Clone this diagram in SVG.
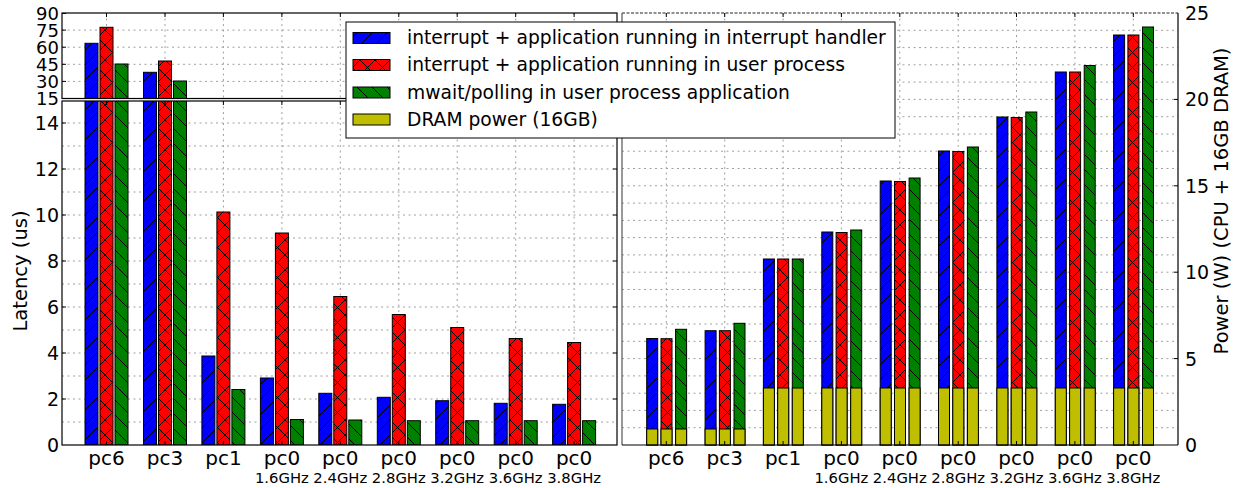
<svg xmlns="http://www.w3.org/2000/svg" width="1238" height="488" viewBox="0 0 1238 488">
  <style>
    text { font-family: "DejaVu Sans", "Liberation Sans", sans-serif; fill: #000; }
    .tl { font-size: 19px; text-anchor: end; }
    .tu { font-size: 18px; text-anchor: end; }
    .tr { font-size: 19px; text-anchor: start; }
    .xl { font-size: 20px; text-anchor: middle; }
    .xs { font-size: 14.8px; text-anchor: middle; }
    .lg { font-size: 18.7px; }
    .al { font-size: 19.5px; text-anchor: middle; }
    .grid { stroke: #a0a0a0; stroke-width: 1; stroke-dasharray: 2 3.5; fill: none; }
    .spine { stroke: #000; stroke-width: 1.2; fill: none; }
    .tick { stroke: #000; stroke-width: 1; fill: none; }
    .bar { stroke: #000; stroke-width: 1; }
    .b { fill: url(#hb); }
    .r { fill: url(#hr); }
    .g { fill: url(#hg); }
    .y { fill: #bfbf00; }
  </style>
  <defs>
    <pattern id="hb" patternUnits="userSpaceOnUse" width="15" height="15">
      <rect width="15" height="15" fill="#0000ff"/>
      <path d="M-2,2 L2,-2 M0,15 L15,0 M13,17 L17,13" stroke="#000" stroke-width="1"/>
    </pattern>
    <pattern id="hg" patternUnits="userSpaceOnUse" width="15" height="15">
      <rect width="15" height="15" fill="#008000"/>
      <path d="M-2,13 L2,17 M0,0 L15,15 M13,-2 L17,2" stroke="#000" stroke-width="1"/>
    </pattern>
    <pattern id="hr" patternUnits="userSpaceOnUse" width="15" height="15">
      <rect width="15" height="15" fill="#ff0000"/>
      <path d="M-2,2 L2,-2 M0,15 L15,0 M13,17 L17,13 M-2,13 L2,17 M0,0 L15,15 M13,-2 L17,2" stroke="#000" stroke-width="1"/>
    </pattern>
    <clipPath id="clipUp"><rect x="62" y="13" width="555" height="85.5"/></clipPath>
    <clipPath id="clipLo"><rect x="62" y="101" width="555" height="344"/></clipPath>
  </defs>
  <rect width="1238" height="488" fill="#fff"/>

  <!-- Latency chart: upper (broken) axes, 15..90 us -->
  <g id="latency-upper">
    <g class="grid">
      <path d="M62,30.1H617 M62,47.2H617 M62,64.3H617 M62,81.4H617"/>
      <path d="M106.5,13V98.5 M165,13V98.5 M223.4,13V98.5 M281.9,13V98.5 M340.3,13V98.5 M398.8,13V98.5 M457.2,13V98.5 M515.7,13V98.5 M574.1,13V98.5"/>
    </g>
    <g clip-path="url(#clipUp)">
      <rect class="bar b" x="85" y="43.3" width="13" height="70"/>
      <rect class="bar r" x="100" y="27.3" width="13" height="90"/>
      <rect class="bar g" x="115" y="64" width="13" height="50"/>
      <rect class="bar b" x="143.5" y="72.3" width="13" height="40"/>
      <rect class="bar r" x="158.5" y="61" width="13" height="50"/>
      <rect class="bar g" x="173.5" y="81" width="13" height="30"/>
    </g>
    <path class="tick" d="M62,13.5h4 M62,30.1h4 M62,47.2h4 M62,64.3h4 M62,81.4h4 M617,30.1h-4 M617,47.2h-4 M617,64.3h-4 M617,81.4h-4"/>
    <path class="tick" d="M106.5,13v4 M165,13v4 M223.4,13v4 M281.9,13v4 M340.3,13v4 M398.8,13v4 M457.2,13v4 M515.7,13v4 M574.1,13v4"/>
    <rect class="spine" x="62" y="13" width="555" height="85.5"/>
    <g class="tu">
      <text x="59" y="19.7">90</text>
      <text x="59" y="36.6">75</text>
      <text x="59" y="53.7">60</text>
      <text x="59" y="70.8">45</text>
      <text x="59" y="87.9">30</text>
      <text x="59" y="105">15</text>
    </g>
  </g>

  <!-- Latency chart: lower axes, 0..15 us -->
  <g id="latency-lower">
    <g class="grid">
      <path d="M62,422H617 M62,399H617 M62,376H617 M62,353H617 M62,330H617 M62,307H617 M62,284H617 M62,261H617 M62,238H617 M62,215H617 M62,192H617 M62,169H617 M62,146H617 M62,123H617"/>
      <path d="M106.5,101V445 M165,101V445 M223.4,101V445 M281.9,101V445 M340.3,101V445 M398.8,101V445 M457.2,101V445 M515.7,101V445 M574.1,101V445"/>
    </g>
    <g clip-path="url(#clipLo)">
      <!-- pc6 -->
      <rect class="bar b" x="85" y="95" width="13" height="350"/>
      <rect class="bar r" x="100" y="95" width="13" height="350"/>
      <rect class="bar g" x="115" y="95" width="13" height="350"/>
      <!-- pc3 -->
      <rect class="bar b" x="143.5" y="95" width="13" height="350"/>
      <rect class="bar r" x="158.5" y="95" width="13" height="350"/>
      <rect class="bar g" x="173.5" y="95" width="13" height="350"/>
      <!-- pc1 -->
      <rect class="bar b" x="201.9" y="356" width="13" height="89"/>
      <rect class="bar r" x="216.9" y="212" width="13" height="233"/>
      <rect class="bar g" x="231.9" y="389.5" width="13" height="55.5"/>
      <!-- pc0 1.6GHz -->
      <rect class="bar b" x="260.4" y="378" width="13" height="67"/>
      <rect class="bar r" x="275.4" y="233" width="13" height="212"/>
      <rect class="bar g" x="290.4" y="419.5" width="13" height="25.5"/>
      <!-- pc0 2.4GHz -->
      <rect class="bar b" x="318.8" y="393.3" width="13" height="51.7"/>
      <rect class="bar r" x="333.8" y="296.5" width="13" height="148.5"/>
      <rect class="bar g" x="348.8" y="420" width="13" height="25"/>
      <!-- pc0 2.8GHz -->
      <rect class="bar b" x="377.3" y="397.3" width="13" height="47.7"/>
      <rect class="bar r" x="392.3" y="314.5" width="13" height="130.5"/>
      <rect class="bar g" x="407.3" y="420.7" width="13" height="24.3"/>
      <!-- pc0 3.2GHz -->
      <rect class="bar b" x="435.7" y="400.7" width="13" height="44.3"/>
      <rect class="bar r" x="450.7" y="327.5" width="13" height="117.5"/>
      <rect class="bar g" x="465.7" y="420.7" width="13" height="24.3"/>
      <!-- pc0 3.6GHz -->
      <rect class="bar b" x="494.2" y="403.3" width="13" height="41.7"/>
      <rect class="bar r" x="509.2" y="338.5" width="13" height="106.5"/>
      <rect class="bar g" x="524.2" y="420.7" width="13" height="24.3"/>
      <!-- pc0 3.8GHz -->
      <rect class="bar b" x="552.6" y="404.3" width="13" height="40.7"/>
      <rect class="bar r" x="567.6" y="342.5" width="13" height="102.5"/>
      <rect class="bar g" x="582.6" y="420.7" width="13" height="24.3"/>
    </g>
    <path class="tick" d="M62,399h4 M62,353h4 M62,307h4 M62,261h4 M62,215h4 M62,169h4 M62,123h4 M617,399h-4 M617,353h-4 M617,307h-4 M617,261h-4 M617,215h-4 M617,169h-4 M617,123h-4"/>
    <path class="tick" d="M106.5,101v4 M165,101v4 M223.4,101v4 M281.9,101v4 M340.3,101v4 M398.8,101v4 M457.2,101v4 M515.7,101v4 M574.1,101v4 M106.5,445v-4 M165,445v-4 M223.4,445v-4 M281.9,445v-4 M340.3,445v-4 M398.8,445v-4 M457.2,445v-4 M515.7,445v-4 M574.1,445v-4"/>
    <rect class="spine" x="62" y="101" width="555" height="344"/>
    <g class="tl">
      <text x="59" y="452">0</text>
      <text x="59" y="406">2</text>
      <text x="59" y="360">4</text>
      <text x="59" y="314">6</text>
      <text x="59" y="268">8</text>
      <text x="59" y="222">10</text>
      <text x="59" y="176">12</text>
      <text x="59" y="130">14</text>
    </g>
    <g class="xl">
      <text x="106.5" y="465">pc6</text>
      <text x="165" y="465">pc3</text>
      <text x="223.4" y="465">pc1</text>
      <text x="281.9" y="465">pc0</text>
      <text x="340.3" y="465">pc0</text>
      <text x="398.8" y="465">pc0</text>
      <text x="457.2" y="465">pc0</text>
      <text x="515.7" y="465">pc0</text>
      <text x="574.1" y="465">pc0</text>
    </g>
    <g class="xs">
      <text x="281.9" y="483">1.6GHz</text>
      <text x="340.3" y="483">2.4GHz</text>
      <text x="398.8" y="483">2.8GHz</text>
      <text x="457.2" y="483">3.2GHz</text>
      <text x="515.7" y="483">3.6GHz</text>
      <text x="574.1" y="483">3.8GHz</text>
    </g>
    <text class="al" transform="translate(27,271) rotate(-90)">Latency (us)</text>
  </g>

  <!-- Power chart: 0..25 W, CPU stacked on DRAM -->
  <g id="power">
    <g class="grid">
      <path d="M622,427.7H1178 M622,410.4H1178 M622,393.2H1178 M622,375.9H1178 M622,358.6H1178 M622,341.3H1178 M622,324H1178 M622,306.8H1178 M622,289.5H1178 M622,272.2H1178 M622,254.9H1178 M622,237.6H1178 M622,220.4H1178 M622,203.1H1178 M622,185.8H1178 M622,168.5H1178 M622,151.2H1178 M622,134H1178 M622,116.7H1178 M622,99.4H1178 M622,82.1H1178 M622,64.8H1178 M622,47.6H1178 M622,30.3H1178"/>
      <path d="M666.3,13V445 M724.7,13V445 M783.1,13V445 M841.4,13V445 M899.8,13V445 M958.2,13V445 M1016.5,13V445 M1074.9,13V445 M1133.3,13V445"/>
    </g>
    <!-- CPU part -->
    <rect class="bar b" x="646.7" y="338.5" width="11" height="106.5"/>
    <rect class="bar r" x="661" y="338.7" width="11" height="106.3"/>
    <rect class="bar g" x="675.6" y="329.3" width="11" height="115.7"/>
    <rect class="bar b" x="705.1" y="330.7" width="11" height="114.3"/>
    <rect class="bar r" x="719.4" y="330.7" width="11" height="114.3"/>
    <rect class="bar g" x="734" y="323.3" width="11" height="121.7"/>
    <rect class="bar b" x="763.4" y="259" width="11" height="186"/>
    <rect class="bar r" x="777.7" y="259" width="11" height="186"/>
    <rect class="bar g" x="792.3" y="259" width="11" height="186"/>
    <rect class="bar b" x="821.8" y="232" width="11" height="213"/>
    <rect class="bar r" x="836.1" y="232.5" width="11" height="212.5"/>
    <rect class="bar g" x="850.7" y="230" width="11" height="215"/>
    <rect class="bar b" x="880.2" y="181" width="11" height="264"/>
    <rect class="bar r" x="894.5" y="181.5" width="11" height="263.5"/>
    <rect class="bar g" x="909.1" y="178" width="11" height="267"/>
    <rect class="bar b" x="938.5" y="151" width="11" height="294"/>
    <rect class="bar r" x="952.8" y="151.5" width="11" height="293.5"/>
    <rect class="bar g" x="967.4" y="147" width="11" height="298"/>
    <rect class="bar b" x="996.9" y="117" width="11" height="328"/>
    <rect class="bar r" x="1011.2" y="117.5" width="11" height="327.5"/>
    <rect class="bar g" x="1025.8" y="112" width="11" height="333"/>
    <rect class="bar b" x="1055.3" y="72" width="11" height="373"/>
    <rect class="bar r" x="1069.6" y="72" width="11" height="373"/>
    <rect class="bar g" x="1084.2" y="65.5" width="11" height="379.5"/>
    <rect class="bar b" x="1113.6" y="35" width="11" height="410"/>
    <rect class="bar r" x="1127.9" y="35" width="11" height="410"/>
    <rect class="bar g" x="1142.5" y="27" width="11" height="418"/>
    <!-- DRAM part -->
    <rect class="bar y" x="646.7" y="429" width="11" height="16"/>
    <rect class="bar y" x="661" y="429" width="11" height="16"/>
    <rect class="bar y" x="675.6" y="429" width="11" height="16"/>
    <rect class="bar y" x="705.1" y="429" width="11" height="16"/>
    <rect class="bar y" x="719.4" y="429" width="11" height="16"/>
    <rect class="bar y" x="734" y="429" width="11" height="16"/>
    <rect class="bar y" x="763.4" y="388" width="11" height="57"/>
    <rect class="bar y" x="777.7" y="388" width="11" height="57"/>
    <rect class="bar y" x="792.3" y="388" width="11" height="57"/>
    <rect class="bar y" x="821.8" y="388" width="11" height="57"/>
    <rect class="bar y" x="836.1" y="388" width="11" height="57"/>
    <rect class="bar y" x="850.7" y="388" width="11" height="57"/>
    <rect class="bar y" x="880.2" y="388" width="11" height="57"/>
    <rect class="bar y" x="894.5" y="388" width="11" height="57"/>
    <rect class="bar y" x="909.1" y="388" width="11" height="57"/>
    <rect class="bar y" x="938.5" y="388" width="11" height="57"/>
    <rect class="bar y" x="952.8" y="388" width="11" height="57"/>
    <rect class="bar y" x="967.4" y="388" width="11" height="57"/>
    <rect class="bar y" x="996.9" y="388" width="11" height="57"/>
    <rect class="bar y" x="1011.2" y="388" width="11" height="57"/>
    <rect class="bar y" x="1025.8" y="388" width="11" height="57"/>
    <rect class="bar y" x="1055.3" y="388" width="11" height="57"/>
    <rect class="bar y" x="1069.6" y="388" width="11" height="57"/>
    <rect class="bar y" x="1084.2" y="388" width="11" height="57"/>
    <rect class="bar y" x="1113.6" y="388" width="11" height="57"/>
    <rect class="bar y" x="1127.9" y="388" width="11" height="57"/>
    <rect class="bar y" x="1142.5" y="388" width="11" height="57"/>
    <path class="tick" d="M1178,358.6h-4 M1178,272.2h-4 M1178,185.8h-4 M1178,99.4h-4"/>
    <path class="tick" d="M666.3,13v4 M724.7,13v4 M783.1,13v4 M841.4,13v4 M899.8,13v4 M958.2,13v4 M1016.5,13v4 M1074.9,13v4 M1133.3,13v4 M666.3,445v-4 M724.7,445v-4 M783.1,445v-4 M841.4,445v-4 M899.8,445v-4 M958.2,445v-4 M1016.5,445v-4 M1074.9,445v-4 M1133.3,445v-4"/>
    <path d="M622,13H1178" stroke="#222" stroke-width="1" stroke-dasharray="3 1.5" fill="none"/>
    <path d="M622,13V445" stroke="#555" stroke-width="1.2" fill="none"/>
    <path class="spine" d="M622,445H1178 M1178,13V445"/>
    <g class="tr">
      <text x="1185" y="452">0</text>
      <text x="1185" y="365.6">5</text>
      <text x="1185" y="279.2">10</text>
      <text x="1185" y="192.8">15</text>
      <text x="1185" y="106.4">20</text>
      <text x="1185" y="20">25</text>
    </g>
    <g class="xl">
      <text x="666.3" y="465">pc6</text>
      <text x="724.7" y="465">pc3</text>
      <text x="783.1" y="465">pc1</text>
      <text x="841.4" y="465">pc0</text>
      <text x="899.8" y="465">pc0</text>
      <text x="958.2" y="465">pc0</text>
      <text x="1016.5" y="465">pc0</text>
      <text x="1074.9" y="465">pc0</text>
      <text x="1133.3" y="465">pc0</text>
    </g>
    <g class="xs">
      <text x="841.4" y="483">1.6GHz</text>
      <text x="899.8" y="483">2.4GHz</text>
      <text x="958.2" y="483">2.8GHz</text>
      <text x="1016.5" y="483">3.2GHz</text>
      <text x="1074.9" y="483">3.6GHz</text>
      <text x="1133.3" y="483">3.8GHz</text>
    </g>
    <text class="al" transform="translate(1228,201) rotate(-90)">Power (W) (CPU + 16GB DRAM)</text>
  </g>

  <!-- Legend -->
  <g id="legend">
    <rect x="346" y="22" width="549" height="116" fill="#fff" stroke="#000" stroke-width="1"/>
    <rect class="bar b" x="353" y="32.5" width="37" height="11"/>
    <rect class="bar r" x="353" y="59.5" width="37" height="11"/>
    <rect class="bar g" x="353" y="87" width="37" height="11"/>
    <rect class="bar y" x="353" y="114" width="37" height="11"/>
    <g class="lg">
      <text x="407" y="44">interrupt + application running in interrupt handler</text>
      <text x="407" y="71">interrupt + application running in user process</text>
      <text x="407" y="98.5">mwait/polling in user process application</text>
      <text x="407" y="125.5">DRAM power (16GB)</text>
    </g>
  </g>
</svg>
